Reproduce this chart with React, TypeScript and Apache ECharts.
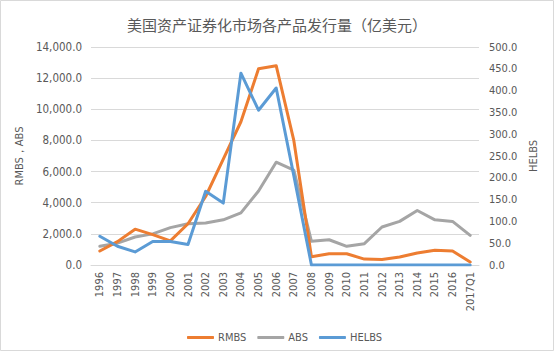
import React, { useEffect, useRef } from "react";
import * as echarts from "echarts";

const categories = [
  "1996", "1997", "1998", "1999", "2000", "2001", "2002", "2003", "2004", "2005", "2006",
  "2007", "2008", "2009", "2010", "2011", "2012", "2013", "2014", "2015", "2016", "2017Q1",
];
const rmbs = [900, 1500, 2300, 1950, 1550, 2650, 4400, 6800, 9200, 12600, 12800, 8000, 530, 720, 720, 380, 350, 510, 770, 950, 900, 190];
const abs = [1200, 1400, 1800, 2000, 2400, 2650, 2700, 2900, 3350, 4750, 6600, 6100, 1520, 1620, 1200, 1370, 2440, 2800, 3500, 2900, 2800, 1900];
const helbs = [66, 43, 30, 54, 54, 47, 169, 142, 440, 355, 406, 205, 0, 0, 0, 0, 0, 0, 0, 0, 0, 0];
const leftTicks = { min: 0, max: 14000, interval: 2000 };
const rightTicks = { min: 0, max: 500, interval: 50 };

const FONT = "'DejaVu Sans Condensed', 'Liberation Sans', sans-serif";
const TXT = "#595959";
const GRID = "#D9D9D9";

export default function App() {
  const ref = useRef<HTMLDivElement>(null);
  useEffect(() => {
    const chart = echarts.init(ref.current!, null, { renderer: "svg" });
    chart.setOption({
      animation: false,
      backgroundColor: "#fff",
      title: {
        text: "美国资产证券化市场各产品发行量（亿美元）",
        left: 272,
        textAlign: "center",
        top: 12,
        textStyle: { fontFamily: "'Noto Sans CJK SC'", fontSize: 15, fontWeight: "normal", color: TXT },
      },
      graphic: [
        {
          type: "rect",
          shape: { x: 0.5, y: 0.5, width: 553, height: 350 },
          style: { fill: "none", stroke: GRID, lineWidth: 1 },
          silent: true,
        },
      ],
      legend: {
        left: 182,
        top: 327,
        itemWidth: 27,
        itemHeight: 3,
        itemGap: 11,
        icon: "roundRect",
        textStyle: { fontFamily: FONT, fontSize: 11, color: TXT, padding: [0, 0, 0, -1] },
        data: ["RMBS", "ABS", "HELBS"],
      },
      grid: { left: 91, right: 75, top: 47, bottom: 86 },
      xAxis: {
        type: "category",
        data: categories,
        boundaryGap: true,
        axisLine: { lineStyle: { color: GRID, width: 1 } },
        axisTick: { show: false },
        axisLabel: { rotate: 90, interval: 0, fontFamily: FONT, fontSize: 11, color: TXT, margin: 7 },
      },
      yAxis: [
        {
          type: "value",
          position: "left",
          ...leftTicks,
          name: "RMBS，ABS",
          nameLocation: "middle",
          nameRotate: 90,
          nameGap: 59,
          nameTextStyle: { fontFamily: FONT, fontSize: 11, color: TXT },
          axisLine: { show: false },
          axisTick: { show: false },
          splitLine: { lineStyle: { color: GRID, width: 1 } },
          axisLabel: {
            fontFamily: FONT,
            fontSize: 11.5,
            color: TXT,
            margin: 9,
            formatter: (v: number) => v.toLocaleString("en-US", { minimumFractionDigits: 1, maximumFractionDigits: 1 }),
          },
        },
        {
          type: "value",
          position: "right",
          ...rightTicks,
          name: "HELBS",
          nameLocation: "middle",
          nameRotate: 90,
          nameGap: 46,
          nameTextStyle: { fontFamily: FONT, fontSize: 11, color: TXT },
          axisLine: { show: false },
          axisTick: { show: false },
          splitLine: { show: false },
          axisLabel: {
            fontFamily: FONT,
            fontSize: 11,
            color: TXT,
            margin: 10,
            formatter: (v: number) => v.toFixed(1),
          },
        },
      ],
      series: [
        {
          name: "RMBS",
          type: "line",
          data: rmbs,
          yAxisIndex: 0,
          symbol: "none",
          color: "#ED7D31",
          lineStyle: { width: 3, color: "#ED7D31", join: "round", cap: "round" },
          z: 3,
        },
        {
          name: "ABS",
          type: "line",
          data: abs,
          yAxisIndex: 0,
          symbol: "none",
          color: "#A5A5A5",
          lineStyle: { width: 3, color: "#A5A5A5", join: "round", cap: "round" },
          z: 2,
        },
        {
          name: "HELBS",
          type: "line",
          data: helbs,
          yAxisIndex: 1,
          symbol: "none",
          color: "#5B9BD5",
          lineStyle: { width: 3, color: "#5B9BD5", join: "round", cap: "round" },
          z: 4,
        },
      ],
    });
    return () => chart.dispose();
  }, []);
  return (
    <div
      ref={ref}
      style={{ position: "absolute", left: 0, top: 0, width: 554, height: 351, background: "#fff" }}
    />
  );
}
